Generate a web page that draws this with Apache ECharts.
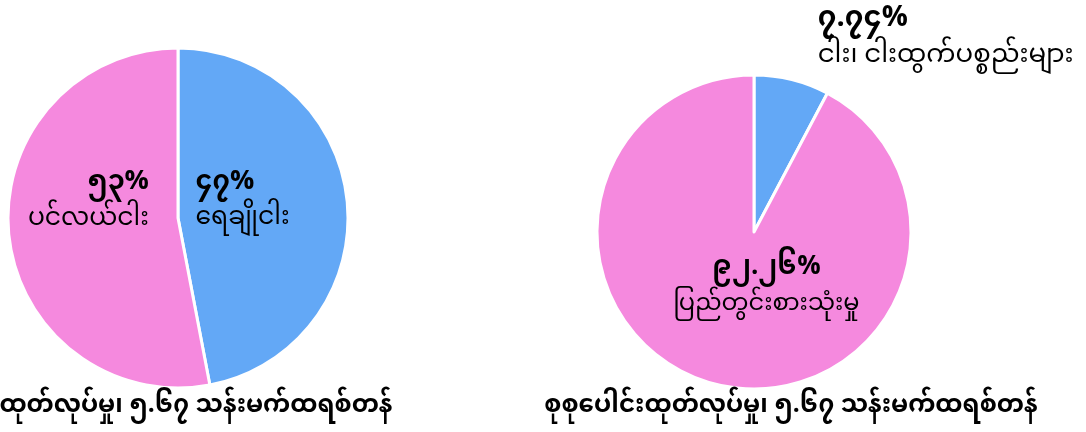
<!DOCTYPE html>
<html>
<head>
<meta charset="utf-8">
<script src="https://cdn.jsdelivr.net/npm/echarts@6/dist/echarts.min.js"></script>
<style>
  html, body { margin: 0; padding: 0; background: #fff; }
  #chart { width: 1086px; height: 432px; }
</style>
</head>
<body>
<div id="chart"></div>
<script>
// Fish production by source, and where it goes
const productionNames = ['ရေချိုငါး', 'ပင်လယ်ငါး'];
const productionShares = [47, 53];
const productionPctText = ['၄၇%', '၅၃%'];
const productionTitle = 'ထုတ်လုပ်မှု၊ ၅.၆၇ သန်းမက်ထရစ်တန်';

const useNames = ['ငါး၊ ငါးထွက်ပစ္စည်းများ', 'ပြည်တွင်းစားသုံးမှု'];
const useShares = [7.74, 92.26];
const usePctText = ['၇.၇၄%', '၉၂.၂၆%'];
const useTitle = 'စုစုပေါင်းထုတ်လုပ်မှု၊ ၅.၆၇ သန်းမက်ထရစ်တန်';

const BLUE = '#63a8f6';
const PINK = '#f589de';
const FONT = '"Noto Sans Myanmar", "Noto Sans", sans-serif';

// Two-line label: bold percentage over the category name
function item(name, value, pct, color, opts) {
  return {
    name, value,
    itemStyle: { color },
    label: {
      show: true,
      position: 'inside',
      offset: opts.offset,
      formatter: '{p|' + pct + '}\n{n|' + name + '}',
      rich: {
        p: { fontFamily: FONT, fontSize: opts.pSize, fontWeight: 'bold', color: '#000',
             lineHeight: 36, align: opts.align },
        n: { fontFamily: FONT, fontSize: opts.nSize, color: '#000',
             lineHeight: 36, align: opts.align }
      }
    }
  };
}

const titleStyle = { fontFamily: FONT, fontSize: 24.5, fontWeight: 'bold', color: '#000' };

const chart = echarts.init(document.getElementById('chart'));
chart.setOption({
  backgroundColor: '#fff',
  animation: false,
  title: [
    { text: productionTitle, left: 191, top: 392, textAlign: 'center', textStyle: titleStyle },
    { text: useTitle, left: 786, top: 392, textAlign: 'center', textStyle: titleStyle }
  ],
  series: [
    {
      type: 'pie',
      center: [178, 218],
      radius: [0, 170],
      startAngle: 90,
      clockwise: true,
      avoidLabelOverlap: false,
      labelLine: { show: false },
      labelLayout: { hideOverlap: false },
      itemStyle: { borderColor: '#fff', borderWidth: 3 },
      emphasis: { disabled: true },
      data: [
        item(productionNames[0], productionShares[0], productionPctText[0], BLUE,
             { align: 'left', offset: [-23, -6], pSize: 27, nSize: 25 }),
        item(productionNames[1], productionShares[1], productionPctText[1], PINK,
             { align: 'right', offset: [-2, -22], pSize: 27, nSize: 25 })
      ]
    },
    {
      type: 'pie',
      center: [754, 232],
      radius: [0, 157],
      startAngle: 90,
      clockwise: true,
      avoidLabelOverlap: false,
      labelLine: { show: false },
      labelLayout: { hideOverlap: false },
      itemStyle: { borderColor: '#fff', borderWidth: 3 },
      emphasis: { disabled: true },
      data: [
        item(useNames[0], useShares[0], usePctText[0], BLUE,
             { align: 'left', offset: [172, -112], pSize: 29, nSize: 26 }),
        item(useNames[1], useShares[1], usePctText[1], PINK,
             { align: 'center', offset: [32, -22], pSize: 26, nSize: 24 })
      ]
    }
  ]
});
</script>
</body>
</html>
